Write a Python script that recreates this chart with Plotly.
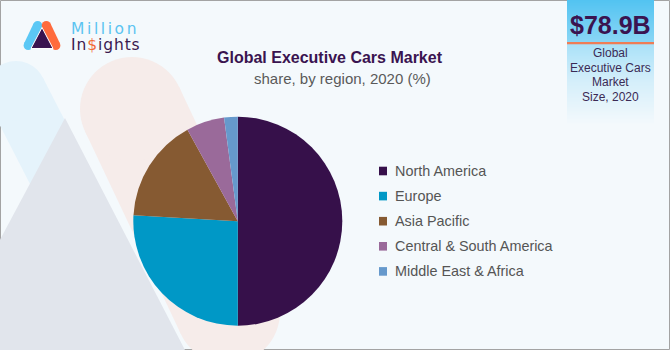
import plotly.graph_objects as go

W, H = 670, 350

# ---- data ----
regions = ["North America", "Europe", "Asia Pacific", "Central & South America", "Middle East & Africa"]
shares = [50.0, 25.9, 16.1, 5.9, 2.1]
colors = ["#36104a", "#0098c6", "#865a32", "#9a6a9a", "#6699cc"]
title_text = "Global Executive Cars Market"
subtitle_text = "share, by region, 2020 (%)"
market_value = "$78.9B"
market_caption = ["Global", "Executive Cars", "Market", "Size, 2020"]

BG = "#f4f9fc"


def X(x):
    return x / W


def Y(y):
    return 1 - y / H


shapes = []
annotations = []


def poly(points, color, line=None):
    path = "M " + " L ".join(f"{X(px):.5f},{Y(py):.5f}" for px, py in points) + " Z"
    shapes.append(dict(type="path", xref="paper", yref="paper", path=path,
                       fillcolor=color, line=line or dict(width=0), layer="below"))


def circle(cx, cy, r, color):
    shapes.append(dict(type="circle", xref="paper", yref="paper",
                       x0=X(cx - r), x1=X(cx + r), y0=Y(cy + r), y1=Y(cy - r),
                       fillcolor=color, line=dict(width=0), layer="below"))


def capsule(t, b, r, color):
    dx, dy = b[0] - t[0], b[1] - t[1]
    L = (dx * dx + dy * dy) ** 0.5
    nx, ny = -dy / L * r, dx / L * r
    poly([(t[0] + nx, t[1] + ny), (b[0] + nx, b[1] + ny),
          (b[0] - nx, b[1] - ny), (t[0] - nx, t[1] - ny)], color)
    circle(t[0], t[1], r, color)
    circle(b[0], b[1], r, color)


def rect(x0, y0, x1, y1, color, layer="below", line=None):
    shapes.append(dict(type="rect", xref="paper", yref="paper",
                       x0=X(x0), x1=X(x1), y0=Y(y1), y1=Y(y0),
                       fillcolor=color, line=line or dict(width=0), layer=layer))


# ---- border (drawn first so the value box covers its top edge) ----
rect(0.5, 0.5, 669.5, 349.5, "rgba(0,0,0,0)", layer="below", line=dict(color="#a3a3a3", width=1))

# ---- faded background emblem ----
capsule((16, 91), (95, 245), 30, "#e5f3fb")
capsule((132, 109), (228, 312), 52, "#f6ecea")
poly([(65, 118), (186, 352), (-60, 352)], "#e1e5ec")

# ---- logo ----
capsule((37.7, 25.5), (28.2, 45.5), 4.6, "#5bc8f5")
capsule((46.3, 25.5), (55.8, 45.5), 4.6, "#ff6b3d")
poly([(42, 27.5), (53, 48.5), (31, 48.5)], "#3a1450", line=dict(color="#ffffff", width=1))

logo_text = ('<span style="font-size:15.5px;letter-spacing:2.6px;fill:#5bc4f1">Million</span><br>'
             '<span style="font-size:15.5px;letter-spacing:0.9px;fill:#3b1a4f">In'
             '<span style="fill:#f26b3a">$</span>ights</span>')
annotations.append(dict(x=X(69), y=Y(36.5), xref="paper", yref="paper", xanchor="left", yanchor="middle",
                        align="left", text=logo_text, showarrow=False,
                        font=dict(family="DejaVu Sans", size=12.5, color="#3b1a4f")))

# ---- value box with vertical gradient ----
stops = [(0, (0x52, 0xc3, 0xf1)), (42, (0x8a, 0xd6, 0xf5)), (44, (0xa9, 0xe1, 0xf8)),
         (80, (0xd3, 0xee, 0xfa)), (125, (0xf4, 0xf9, 0xfc))]
for yy in range(0, 125):
    for (y0, c0), (y1, c1) in zip(stops[:-1], stops[1:]):
        if y0 <= yy < y1:
            f = (yy + 0.5 - y0) / (y1 - y0)
            c = tuple(round(a + (b - a) * f) for a, b in zip(c0, c1))
            break
    rect(567, yy, 654, yy + 1.05, "rgb(%d,%d,%d)" % c)
rect(567, 42, 654, 44.2, "#ef7d55")

annotations.append(dict(x=X(610.5), y=Y(25.5), xref="paper", yref="paper", xanchor="center", yanchor="middle",
                        text=f"<b>{market_value}</b>", showarrow=False,
                        font=dict(family="Liberation Sans", size=25, color="#3a1450")))
for i, line in enumerate(market_caption):
    annotations.append(dict(x=X(610.5), y=Y(53 + i * 14.7), xref="paper", yref="paper",
                            xanchor="center", yanchor="middle", text=line, showarrow=False,
                            font=dict(family="Liberation Sans", size=12, color="#3b2a55")))

# ---- titles ----
annotations.append(dict(x=X(330), y=Y(58), xref="paper", yref="paper", xanchor="center", yanchor="middle",
                        text=f"<b>{title_text}</b>", showarrow=False,
                        font=dict(family="Liberation Sans", size=16, color="#3a1450")))
annotations.append(dict(x=X(342.5), y=Y(78), xref="paper", yref="paper", xanchor="center", yanchor="middle",
                        text=subtitle_text, showarrow=False,
                        font=dict(family="Liberation Sans", size=15, color="#5a5a5a")))

# ---- legend (built from the category list) ----
for i, (name, col) in enumerate(zip(regions, colors)):
    ly = 171 + i * 25.1
    rect(379, ly - 4.3, 387, ly + 4.3, col, layer="above")
    annotations.append(dict(x=X(392.5), y=Y(ly), xref="paper", yref="paper", xanchor="left", yanchor="middle",
                            text=name, showarrow=False,
                            font=dict(family="Liberation Sans", size=14.4, color="#555555")))

# ---- pie ----
cx, cy, r = 237.8, 221.2, 104.5
fig = go.Figure(go.Pie(
    labels=regions, values=shares, sort=False, direction="clockwise", rotation=0,
    marker=dict(colors=colors, line=dict(width=0)),
    textinfo="none", hoverinfo="label+percent", showlegend=False,
    domain=dict(x=[X(cx - r), X(cx + r)], y=[Y(cy + r), Y(cy - r)]),
))

fig.update_layout(
    width=W, height=H, margin=dict(l=0, r=0, t=0, b=0),
    paper_bgcolor=BG, plot_bgcolor=BG,
    shapes=shapes, annotations=annotations, showlegend=False,
)
fig.write_html("out.html")
